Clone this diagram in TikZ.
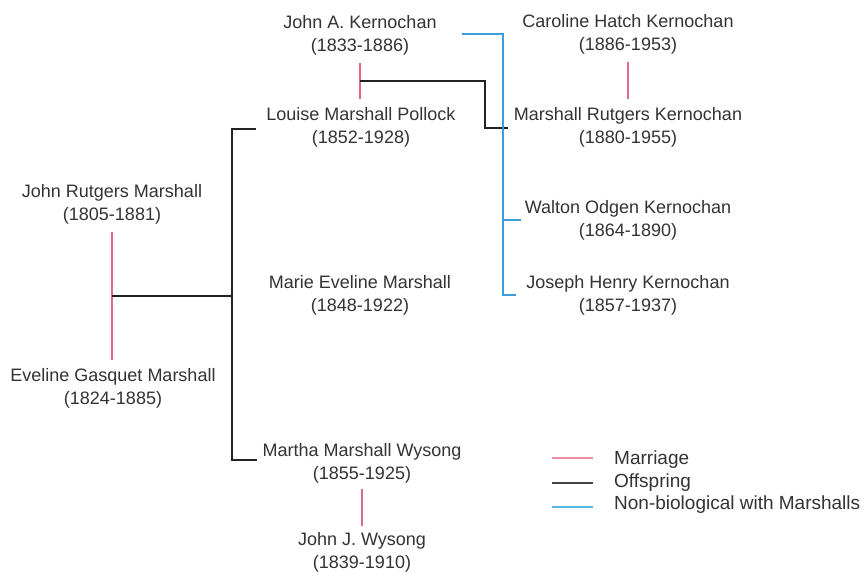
\documentclass[tikz,border=0pt]{standalone}
\usepackage{fontspec}
\setmainfont{Liberation Sans}
\usetikzlibrary{calc}
\definecolor{marrc}{HTML}{E06A85}
\definecolor{nonbioc}{HTML}{3C9DDB}
\definecolor{legbluec}{HTML}{55B8E8}
\definecolor{legpinkc}{HTML}{EC8FA3}
\definecolor{offsc}{HTML}{222222}
\begin{document}
\begin{tikzpicture}[x=1pt,y=-1pt,
  person/.style={align=center, font=\fontsize{18}{23}\selectfont, inner sep=2pt, text=black!80},
  legtext/.style={anchor=west, font=\fontsize{19}{23}\selectfont, inner sep=0pt, text=black!80},
  marr/.style={draw=marrc, line width=1.1pt},
  offs/.style={draw=offsc, line width=1.1pt},
  nonbio/.style={draw=nonbioc, line width=1.1pt},
  legline/.style={line width=1.4pt}]
\useasboundingbox[fill=white] (0,0) rectangle (867,576);
% people
\node[person] (jak) at (360,35) {John A. Kernochan\\(1833-1886)};
\node[person] (lmp) at (361,127) {Louise Marshall Pollock\\(1852-1928)};
\node[person] (chk) at (628,34) {Caroline Hatch Kernochan\\(1886-1953)};
\node[person] (mrk) at (628,127) {Marshall Rutgers Kernochan\\(1880-1955)};
\node[person] (wok) at (628,220) {Walton Odgen Kernochan\\(1864-1890)};
\node[person] (jhk) at (628,295) {Joseph Henry Kernochan\\(1857-1937)};
\node[person] (jrm) at (112,204) {John Rutgers Marshall\\(1805-1881)};
\node[person] (egm) at (113,388) {Eveline Gasquet Marshall\\(1824-1885)};
\node[person] (mem) at (360,295) {Marie Eveline Marshall\\(1848-1922)};
\node[person] (mmw) at (362,463) {Martha Marshall Wysong\\(1855-1925)};
\node[person] (jjw) at (362,552) {John J. Wysong\\(1839-1910)};
% marriages
\draw[marr, shorten <=6pt, shorten >=6pt] (jrm.south) -- (jrm.south |- egm.north);
\draw[marr, shorten <=6pt, shorten >=6pt] (jak.south) -- (jak.south |- lmp.north);
\draw[marr, shorten <=6pt, shorten >=6pt] (chk.south) -- (chk.south |- mrk.north);
\draw[marr, shorten <=4pt, shorten >=4pt] (mmw.south) -- (mmw.south |- jjw.north);
% junctions
\coordinate (jm) at ($(jrm.south)!0.5!(jrm.south |- egm.north)$);
\coordinate (km) at ($(jak.south)!0.5!(jak.south |- lmp.north)$);
\coordinate (bt) at (232,129);
\coordinate (bb) at (232,460);
\coordinate (kc) at (485,128);
\coordinate (nb) at (503,34);
% offspring
\draw[offs] (jm) -- (bt |- jm);
\draw[offs, shorten <=8pt, shorten >=3pt] (lmp.west |- bt) -- (bt) -- (bb) -- (mmw.west |- bb);
\draw[offs, shorten >=4pt] (km) -| (kc) -- (mrk.west |- kc);
% non-biological
\draw[nonbio] ([xshift=23pt]jak.east |- nb) -- (nb) |- ([xshift=-8pt]jhk.west);
\draw[nonbio] (nb |- wok.west) -- ([xshift=-2pt]wok.west);
% legend
\coordinate (l1) at (552,458);
\coordinate (l2) at (552,483);
\coordinate (l3) at (552,507);
\coordinate (r1) at (593,458);
\coordinate (r2) at (593,483);
\coordinate (r3) at (593,507);
\draw[legline, draw=legpinkc] (l1) -- (r1);
\draw[legline, draw=offsc!85] (l2) -- (r2);
\draw[legline, draw=legbluec] (l3) -- (r3);
\node[legtext] (t1) at (614,460) {Marriage};
\node[legtext] (t2) at (614,483) {Offspring};
\node[legtext] (t3) at (614,505) {Non-biological with Marshalls};
\end{tikzpicture}
\end{document}
